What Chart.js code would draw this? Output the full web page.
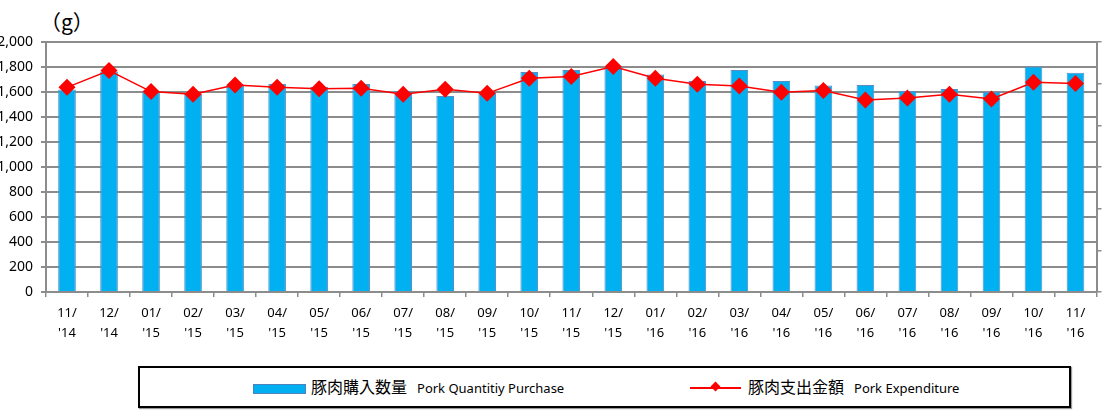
<!DOCTYPE html>
<html>
<head>
<meta charset="utf-8">
<script src="https://cdn.jsdelivr.net/npm/chart.js@4/dist/chart.umd.min.js"></script>
<style>
  body { margin: 0; width: 1105px; height: 412px; background: #fff; position: relative; overflow: hidden; font-family: "Noto Sans", sans-serif; }
  #wrap { position: absolute; left: 0; top: 0; width: 1105px; height: 360px; }
  #unidad { position: absolute; left: 40px; top: 6px; font: 21px "Noto Sans CJK JP", serif; line-height: 30px; color: #000; }
  #leyenda { position: absolute; left: 138px; top: 366px; width: 929px; height: 38px; border: 2px solid #000; box-shadow: 1px 1px 1px #999; }
  .item { position: absolute; top: 0; height: 38px; line-height: 38px; white-space: nowrap; color: #000; }
  .jp { font: 16px "Noto Sans CJK JP", sans-serif; }
  .en { font: 13px "Noto Sans", sans-serif; margin-left: 10px; }
  .caja { position: absolute; left: 113px; top: 16px; width: 51px; height: 8px; background: #00b0f0; border: 1px solid #4f81bd; }
  .linea { position: absolute; left: 550px; top: 19px; width: 51px; height: 1.5px; background: #ff0000; }
  .rombo { position: absolute; left: 572px; top: 15px; width: 7px; height: 7px; background: #ff0000; transform: rotate(45deg); }
</style>
</head>
<body>
<div id="unidad">（g）</div>
<div id="wrap"><canvas id="grafico"></canvas></div>
<div id="leyenda">
  <div class="caja"></div>
  <div class="item" style="left:171px"><span class="jp">豚肉購入数量</span><span class="en">Pork Quantitiy Purchase</span></div>
  <div class="linea"></div>
  <div class="rombo"></div>
  <div class="item" style="left:608px"><span class="jp">豚肉支出金額</span><span class="en">Pork Expenditure</span></div>
</div>
<script>
const meses = [
  ["11/", "'14"], ["12/", "'14"], ["01/", "'15"], ["02/", "'15"], ["03/", "'15"],
  ["04/", "'15"], ["05/", "'15"], ["06/", "'15"], ["07/", "'15"], ["08/", "'15"],
  ["09/", "'15"], ["10/", "'15"], ["11/", "'15"], ["12/", "'15"], ["01/", "'16"],
  ["02/", "'16"], ["03/", "'16"], ["04/", "'16"], ["05/", "'16"], ["06/", "'16"],
  ["07/", "'16"], ["08/", "'16"], ["09/", "'16"], ["10/", "'16"], ["11/", "'16"]
];

// cantidad comprada (g)
const cantidad = [1621, 1765, 1608, 1588, 1660, 1664, 1640, 1664, 1608, 1568,
  1602, 1760, 1776, 1803, 1741, 1688, 1776, 1688, 1652, 1656,
  1608, 1624, 1600, 1805, 1755];

// gasto (yen), eje derecho 0-3000
const gasto = [2456, 2657, 2405, 2372, 2484, 2456, 2438, 2444, 2372, 2432,
  2384, 2564, 2585, 2705, 2564, 2492, 2472, 2396, 2418, 2304,
  2328, 2372, 2316, 2516, 2501];

const gris = '#8c8c8c';
const fuente = { family: 'Noto Sans', size: 13 };

const ctx = document.getElementById("grafico").getContext("2d");

new Chart(ctx, {
  type: 'bar',
  data: {
    labels: meses,
    datasets: [
      {
        type: 'line',
        label: '豚肉支出金額 Pork Expenditure',
        data: gasto,
        yAxisID: 'y2',
        borderColor: '#ff0000',
        backgroundColor: '#ff0000',
        borderWidth: 1.5,
        pointStyle: 'rectRot',
        pointRadius: 8.5,
        pointBorderWidth: 0,
        tension: 0,
        order: 0
      },
      {
        label: '豚肉購入数量 Pork Quantitiy Purchase',
        data: cantidad,
        yAxisID: 'y',
        backgroundColor: '#00b0f0',
        borderColor: '#5b8cc6',
        borderWidth: 1,
        barPercentage: 0.42,
        categoryPercentage: 1,
        order: 1
      }
    ]
  },
  options: {
    responsive: true,
    maintainAspectRatio: false,
    animation: false,
    layout: { padding: { top: 42, left: 0, right: 0, bottom: 0 } },
    plugins: {
      legend: { display: false },
      tooltip: { enabled: false }
    },
    scales: {
      x: {
        offset: true,
        grid: { drawOnChartArea: false, drawTicks: true, tickLength: 5, color: gris, lineWidth: 1.5 },
        border: { color: gris, width: 2 },
        ticks: { color: '#000', font: { ...fuente, lineHeight: '20px' }, padding: 6, maxRotation: 0, autoSkip: false },
        afterFit: s => { s.height = 68; }
      },
      y: {
        position: 'left',
        min: 0,
        max: 2000,
        ticks: {
          stepSize: 200,
          color: '#000',
          font: { family: 'Noto Sans', size: 14 },
          padding: 8,
          callback: v => v.toLocaleString('en-US')
        },
        grid: { color: gris, lineWidth: 2, tickLength: 5 },
        border: { color: gris, width: 2 },
        afterFit: s => { s.width = 46; }
      },
      y2: {
        position: 'right',
        min: 0,
        max: 3000,
        ticks: { stepSize: 500, display: false },
        grid: { drawOnChartArea: false, tickLength: 5, color: gris, lineWidth: 1.5 },
        border: { color: gris, width: 2 },
        afterFit: s => { s.width = 6; }
      }
    }
  }
});
</script>
</body>
</html>
